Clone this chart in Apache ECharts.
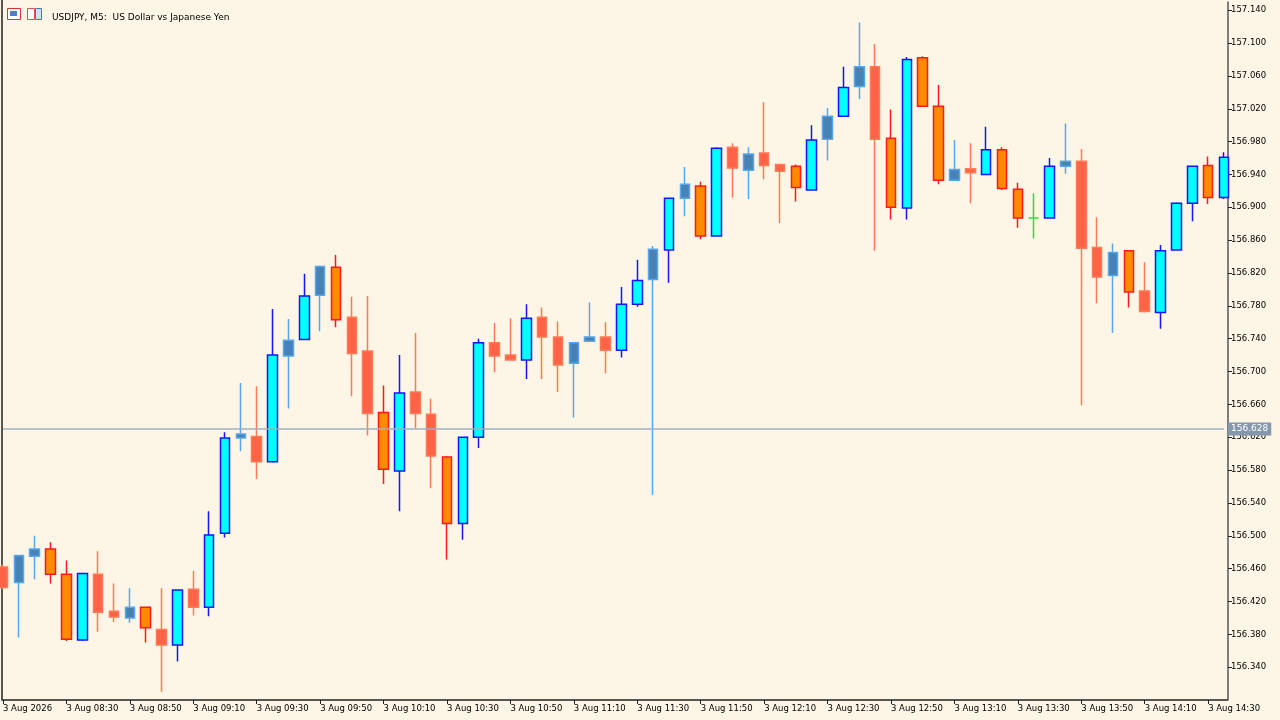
<!DOCTYPE html>
<html>
<head>
<meta charset="utf-8">
<script src="https://cdn.jsdelivr.net/npm/echarts@6/dist/echarts.min.js"></script>
<style>
  html, body { margin: 0; padding: 0; background: #fdf5e6; }
  #main { width: 1280px; height: 720px; }
</style>
</head>
<body>
<div id="main"></div>
<script>
// 5-minute bars, 3 Aug 08:10 .. 14:35
var opens = [156.462,156.443,156.475,156.484,156.453,156.373,156.453,156.408,156.400,156.413,
  156.386,156.367,156.435,156.413,156.503,156.619,156.621,156.590,156.719,156.739,
  156.793,156.827,156.766,156.725,156.650,156.579,156.675,156.648,156.596,156.515,
  156.620,156.735,156.720,156.714,156.766,156.742,156.710,156.737,156.742,156.726,
  156.782,156.812,156.848,156.911,156.926,156.865,156.973,156.945,156.966,156.952,
  156.950,156.921,156.983,157.011,157.047,157.071,156.984,156.899,157.082,157.023,
  156.933,156.947,156.940,156.970,156.922,156.887,156.887,156.950,156.956,156.851,
  156.817,156.847,156.798,156.772,156.848,156.905,156.951,156.912];
var closes = [156.437,156.476,156.484,156.453,156.374,156.454,156.407,156.401,156.413,156.388,
  156.367,156.434,156.413,156.501,156.619,156.624,156.590,156.720,156.738,156.792,
  156.828,156.763,156.722,156.649,156.581,156.674,156.649,156.597,156.515,156.620,
  156.735,156.719,156.714,156.765,156.742,156.708,156.735,156.742,156.726,156.782,
  156.811,156.849,156.911,156.928,156.865,156.972,156.948,156.965,156.951,156.944,
  156.924,156.982,157.011,157.046,157.071,156.983,156.900,157.080,157.023,156.933,
  156.946,156.942,156.970,156.923,156.887,156.887,156.950,156.956,156.850,156.815,
  156.845,156.797,156.773,156.847,156.905,156.950,156.912,156.961];
var highs = [156.465,156.476,156.500,156.492,156.470,156.455,156.481,156.442,156.436,156.414,
  156.436,156.435,156.457,156.530,156.626,156.686,156.682,156.776,156.764,156.819,
  156.829,156.842,156.791,156.792,156.683,156.720,156.747,156.667,156.597,156.621,
  156.740,156.759,156.765,156.782,156.778,156.761,156.736,156.784,156.760,156.803,
  156.836,156.853,156.912,156.949,156.931,156.973,156.978,156.973,157.028,156.953,
  156.952,157.000,157.021,157.071,157.125,157.099,157.019,157.083,157.084,157.049,
  156.982,156.978,156.998,156.973,156.930,156.917,156.960,157.002,156.971,156.888,
  156.856,156.848,156.833,156.854,156.906,156.951,156.962,156.967];
var lows = [156.435,156.376,156.447,156.442,156.372,156.372,156.383,156.395,156.394,156.370,
  156.310,156.347,156.403,156.402,156.498,156.603,156.569,156.589,156.655,156.738,
  156.749,156.754,156.670,156.622,156.563,156.530,156.631,156.558,156.471,156.495,
  156.607,156.699,156.713,156.691,156.691,156.675,156.644,156.736,156.698,156.717,
  156.779,156.550,156.808,156.889,156.861,156.864,156.912,156.910,156.934,156.881,
  156.907,156.920,156.957,157.010,157.032,156.847,156.885,156.885,157.022,156.928,
  156.932,156.905,156.940,156.921,156.875,156.862,156.886,156.941,156.659,156.783,
  156.747,156.778,156.772,156.752,156.847,156.883,156.904,156.910];
// candle class as painted by the terminal: B big bull, b small bull, S big bear, s small bear, d doji
var kinds = ['s','b','b','S','S','B','s','s','b','S',
  's','B','s','B','B','b','s','B','b','B',
  'b','S','s','s','S','B','s','s','S','B',
  'B','s','s','B','s','s','b','b','s','B',
  'B','b','B','b','S','B','s','b','s','s',
  'S','B','b','B','b','s','S','B','S','S',
  'b','s','B','S','S','d','B','b','s','s',
  'b','S','s','B','B','B','S','B'];
var yTicks = [156.340,156.380,156.420,156.460,156.500,156.540,156.580,156.620,156.660,156.700,
  156.740,156.780,156.820,156.860,156.900,156.940,156.980,157.020,157.060,157.100,157.140];
var lastPrice = 156.628;

var times = [];
for (var i = 0; i < opens.length; i++) {
  var m = 8 * 60 + 10 + i * 5;
  var hh = Math.floor(m / 60), mm = m % 60;
  times.push((hh < 10 ? '0' : '') + hh + ':' + (mm < 10 ? '0' : '') + mm);
}

var styles = {
  B: { color: '#00ffff', color0: '#00ffff', borderColor: '#1515ff', borderColor0: '#1515ff' },
  b: { color: '#4682b4', color0: '#4682b4', borderColor: '#58a6f0', borderColor0: '#58a6f0' },
  S: { color: '#ff8c00', color0: '#ff8c00', borderColor: '#ff1a1a', borderColor0: '#ff1a1a' },
  s: { color: '#ff6347', color0: '#ff6347', borderColor: '#ff7a55', borderColor0: '#ff7a55' },
  d: { color: '#33dd33', color0: '#33dd33', borderColor: '#33dd33', borderColor0: '#33dd33' }
};

var series = Object.keys(styles).map(function (k) {
  return {
    type: 'candlestick',
    barWidth: 10,
    clip: true,
    itemStyle: Object.assign({ borderWidth: 1.5 }, styles[k]),
    data: opens.map(function (o, i) {
      return kinds[i] === k ? [o, closes[i], lows[i], highs[i]] : '-';
    })
  };
});
series[0].markLine = {
  symbol: 'none', silent: true,
  lineStyle: { color: '#9fb0c0', type: 'solid', width: 1.5 },
  label: {
    position: 'end', formatter: lastPrice.toFixed(3), color: '#fff',
    backgroundColor: '#8497ad', padding: [2, 3], fontSize: 9,
    fontFamily: 'DejaVu Sans', distance: 4
  },
  data: [{ yAxis: lastPrice }]
};

var chart = echarts.init(document.getElementById('main'));
chart.setOption({
  backgroundColor: '#fdf5e6',
  animation: false,
  graphic: [
    { type: 'polyline', shape: { points: [[2, 0], [2, 700], [1228, 700]] },
      style: { fill: 'none', stroke: '#222', lineWidth: 1.5 } },
    { type: 'rect', left: 7, top: 8, shape: { width: 13, height: 11 },
      style: { fill: '#fff', stroke: '#e03030', lineWidth: 1 } },
    { type: 'rect', left: 10, top: 11, shape: { width: 7, height: 5 },
      style: { fill: '#4a7fd0' } },
    { type: 'rect', left: 27, top: 8, shape: { width: 7, height: 11 },
      style: { fill: '#fff', stroke: '#e05050', lineWidth: 1 } },
    { type: 'rect', left: 35, top: 8, shape: { width: 6, height: 11 },
      style: { fill: '#cfe3f8', stroke: '#3a78c8', lineWidth: 1 } }
  ],
  title: {
    text: 'USDJPY, M5:  US Dollar vs Japanese Yen', left: 47, top: 8,
    textStyle: { fontSize: 9, fontWeight: 'normal', color: '#000', fontFamily: 'DejaVu Sans' }
  },
  grid: { left: 3, right: 56, top: 2, bottom: 20 },
  xAxis: {
    type: 'category', data: times, boundaryGap: false,
    axisLine: { show: false },
    axisTick: { interval: 3, length: 4, lineStyle: { color: '#222' } },
    axisLabel: {
      interval: 3, color: '#000', fontSize: 8.5, fontFamily: 'DejaVu Sans', align: 'left',
      margin: 4,
      formatter: function (v, i) { return i === 0 ? '3 Aug 2026' : '3 Aug ' + v; }
    },
    splitLine: { show: false }
  },
  yAxis: {
    type: 'value', position: 'right', min: 156.300, max: 157.150, scale: true, offset: 4,
    axisLine: { show: true, lineStyle: { color: '#555', width: 1.5 } },
    axisTick: { show: true, customValues: yTicks, length: 4, inside: false, lineStyle: { color: '#222' } },
    axisLabel: {
      customValues: yTicks, color: '#000', fontSize: 8.5, fontFamily: 'DejaVu Sans', margin: 3,
      formatter: function (v) { return v.toFixed(3); }
    },
    splitLine: { show: false }
  },
  series: series
});
</script>
</body>
</html>
